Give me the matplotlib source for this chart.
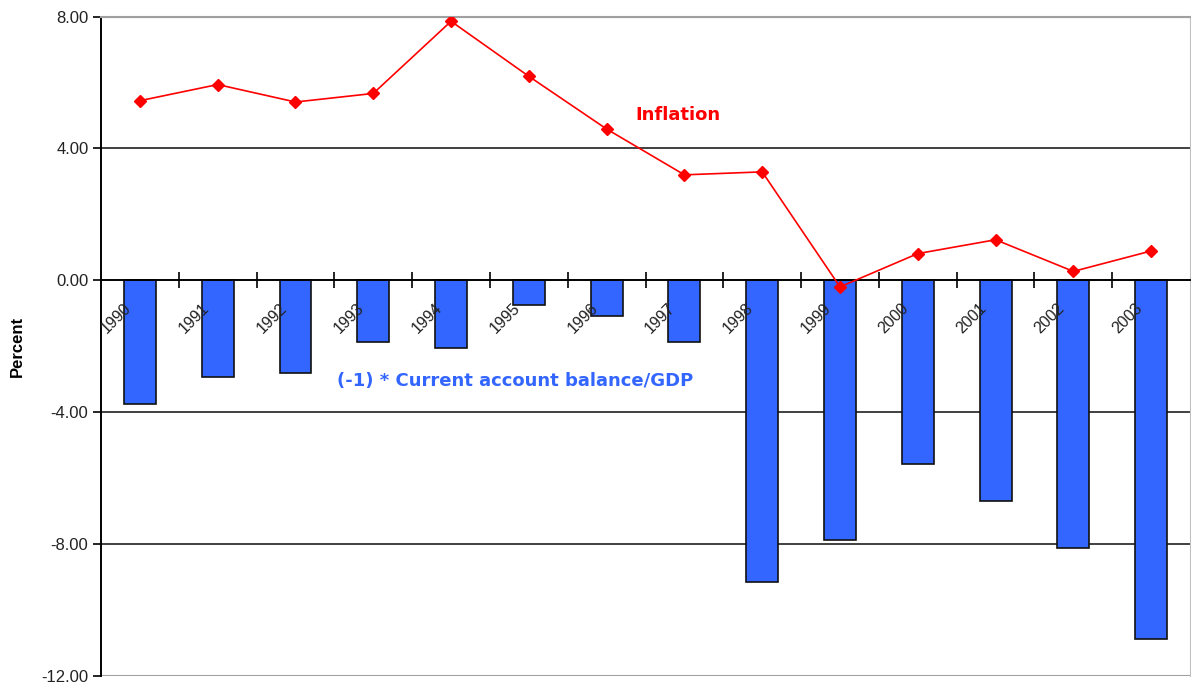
import matplotlib.pyplot as plt
from matplotlib.transforms import ScaledTranslation

years = ['1990', '1991', '1992', '1993', '1994', '1995', '1996',
         '1997', '1998', '1999', '2000', '2001', '2002', '2003']
# (-1) * current account balance / GDP
ca_balance = [-3.74, -2.94, -2.80, -1.88, -2.04, -0.76, -1.09,
              -1.88, -9.16, -7.89, -5.59, -6.69, -8.12, -10.90]
inflation = [5.45, 5.94, 5.41, 5.67, 7.86, 6.19, 4.59,
             3.20, 3.29, -0.20, 0.81, 1.23, 0.27, 0.89]
yticks = [-12, -8, -4, 0, 4, 8]

fig = plt.figure(figsize=(11.91, 6.86), dpi=100)
ax = fig.add_axes([0.0848, 0.015, 0.9144, 0.9607])

x = list(range(len(years)))

# grid / frame lines
for t in yticks:
    if t == yticks[0] or t == yticks[-1]:
        ax.axhline(t, color='#a0a0a0', lw=1.5, zorder=1)
    elif t != 0:
        ax.axhline(t, color='#202020', lw=1.2, zorder=1)

ax.bar(x, ca_balance, width=0.41, color='#3366ff', edgecolor='#111111',
       linewidth=1.2, zorder=2)
ax.plot(x, inflation, color='#ff0000', lw=1.2, marker='D', markersize=6,
        zorder=4)

ax.set_xlim(-0.5, len(years) - 0.5)
ax.set_ylim(yticks[0], yticks[-1])

ax.spines['bottom'].set_position(('data', 0))
ax.spines['bottom'].set_linewidth(1.4)
ax.spines['bottom'].set_zorder(3)
ax.spines['left'].set_linewidth(1.4)
ax.spines['top'].set_color('#a0a0a0')
ax.spines['top'].set_linewidth(1.5)
ax.spines['right'].set_color('#c0c0c0')

ax.set_yticks(yticks)
ax.set_yticklabels(['%.2f' % t for t in yticks], fontsize=12,
                   family='Liberation Sans', color='#222222')
ax.tick_params(axis='y', direction='out', length=6, width=1.2, pad=3)

# category boundaries as cross ticks on the zero line
ax.set_xticks([i + 0.5 for i in x[:-1]])
ax.set_xticklabels([])
ax.tick_params(axis='x', direction='inout', length=12, width=1.2)

off = ScaledTranslation(-6 / 100, -20 / 100, fig.dpi_scale_trans)
for i, yr in zip(x, years):
    ax.text(i, 0, yr, transform=ax.transData + off, rotation=45,
            ha='right', va='top', fontsize=11.5, family='Liberation Sans',
            color='#222222', zorder=5)

ax.set_ylabel('Percent', fontsize=12, fontweight='bold',
              family='Liberation Sans', labelpad=8)
ax.yaxis.set_label_coords(-0.07, 0.5)

ax.text(0.53, 0.851, 'Inflation', transform=ax.transAxes, color='#ff0000',
        fontsize=13, fontweight='bold', ha='center', va='center')
ax.text(0.38, 0.447, '(-1) * Current account balance/GDP', transform=ax.transAxes,
        color='#3366ff', fontsize=13, fontweight='bold', ha='center', va='center')

fig.savefig('out.png', dpi=100)
